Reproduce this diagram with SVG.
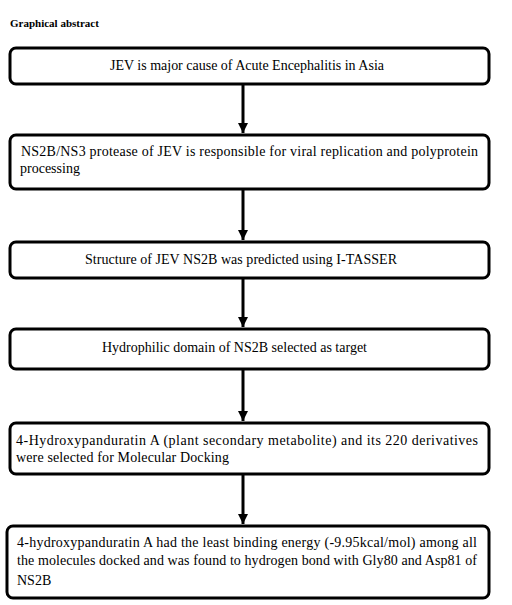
<svg xmlns="http://www.w3.org/2000/svg" width="512" height="605" viewBox="0 0 512 605">
<style>
.box{fill:#fff;stroke:#000;stroke-width:3}
.c{stroke:#000;stroke-width:3;fill:none}
</style>
<defs>
<marker id="ah" viewBox="0 0 10 10" refX="10" refY="5" markerWidth="3.4" markerHeight="3.4" markerUnits="strokeWidth" orient="auto">
<path d="M0,0 L10,5 L0,10 z" fill="#000"/>
</marker>
</defs>
<rect width="512" height="605" fill="#fff"/>
<text x="10" y="27" font-family="Liberation Serif" font-size="11" font-weight="bold">Graphical abstract</text>
<g id="connectors">
<line class="c" x1="243" y1="84" x2="243" y2="133" marker-end="url(#ah)"/>
<line class="c" x1="243" y1="189" x2="243" y2="240" marker-end="url(#ah)"/>
<line class="c" x1="243" y1="278" x2="243" y2="327" marker-end="url(#ah)"/>
<line class="c" x1="243" y1="369" x2="243" y2="421" marker-end="url(#ah)"/>
<line class="c" x1="243" y1="474" x2="243" y2="524" marker-end="url(#ah)"/>
</g>
<g id="n1">
<rect class="box" x="10" y="48" width="479" height="36" rx="6"/>
<text font-family="Liberation Serif" font-size="14" x="110" y="70" textLength="274" lengthAdjust="spacing">JEV is major cause of Acute Encephalitis in Asia</text>
</g>
<g id="n2">
<rect class="box" x="10" y="135" width="479" height="54" rx="6"/>
<text font-family="Liberation Serif" font-size="14" x="21" y="156" textLength="457" lengthAdjust="spacing">NS2B/NS3 protease of JEV is responsible for viral replication and polyprotein</text>
<text font-family="Liberation Serif" font-size="14" x="20" y="173">processing</text>
</g>
<g id="n3">
<rect class="box" x="10" y="242" width="479" height="36" rx="6"/>
<text font-family="Liberation Serif" font-size="14" x="85" y="264" textLength="312" lengthAdjust="spacing">Structure of JEV NS2B was predicted using I-TASSER</text>
</g>
<g id="n4">
<rect class="box" x="10" y="329" width="479" height="40" rx="6"/>
<text font-family="Liberation Serif" font-size="14" x="102" y="352" textLength="265" lengthAdjust="spacing">Hydrophilic domain of NS2B selected as target</text>
</g>
<g id="n5">
<rect class="box" x="10" y="423" width="479" height="51" rx="6"/>
<text font-family="Liberation Serif" font-size="14" x="16" y="445" textLength="462" lengthAdjust="spacing">4-Hydroxypanduratin A (plant secondary metabolite) and its 220 derivatives</text>
<text font-family="Liberation Serif" font-size="14" x="16" y="462" textLength="213" lengthAdjust="spacing">were selected for Molecular Docking</text>
</g>
<g id="n6">
<rect class="box" x="7" y="526" width="482" height="72" rx="6"/>
<text font-family="Liberation Serif" font-size="14" x="17" y="547" textLength="460" lengthAdjust="spacing">4-hydroxypanduratin A had the least binding energy (-9.95kcal/mol) among all</text>
<text font-family="Liberation Serif" font-size="14" x="17" y="565" textLength="460" lengthAdjust="spacing">the molecules docked and was found to hydrogen bond with Gly80 and Asp81 of</text>
<text font-family="Liberation Serif" font-size="14" x="17" y="585">NS2B</text>
</g>
</svg>
